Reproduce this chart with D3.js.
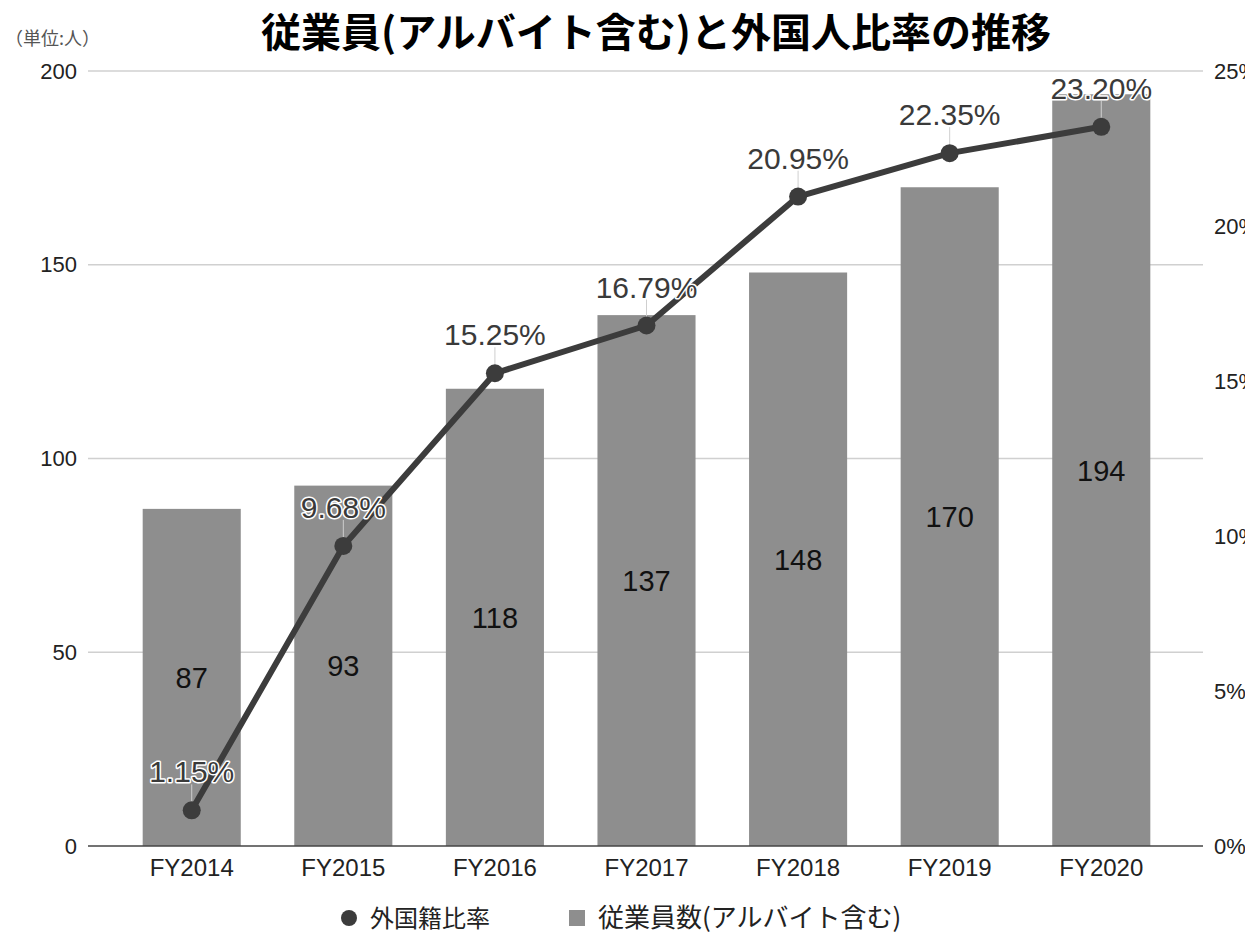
<!DOCTYPE html>
<html lang="ja">
<head>
<meta charset="utf-8">
<script src="https://cdn.jsdelivr.net/npm/d3@7"></script>
<style>
  html, body { margin: 0; padding: 0; background: #fff; }
  svg { display: block; }
  text { font-family: "Liberation Sans", Arial, "Noto Sans CJK JP", sans-serif; }
  .jp { font-family: "Noto Sans CJK JP", "Noto Sans CJK SC", sans-serif; }
</style>
</head>
<body>
<svg id="chart" width="1245" height="943"></svg>
<script>
// Fiscal years
const years = ["FY2014", "FY2015", "FY2016", "FY2017", "FY2018", "FY2019", "FY2020"];
// Employees including part-time staff (persons)
const employees = [87, 93, 118, 137, 148, 170, 194];
// Share of foreign-national staff (%)
const foreignRatio = [1.15, 9.68, 15.25, 16.79, 20.95, 22.35, 23.20];
// Axis ticks
const leftTicks = [0, 50, 100, 150, 200];
const rightTicks = [0, 5, 10, 15, 20, 25];

const titleText = "従業員(アルバイト含む)と外国人比率の推移";
const unitText = "（単位:人）";
const legendLine = "外国籍比率";
const legendBar = "従業員数(アルバイト含む)";

const svg = d3.select("#chart");

const plot = { left: 88, right: 1203, top: 71, bottom: 846 };

const x = d3.scaleBand().domain(years).range([116, 1177]).paddingInner(0.353).paddingOuter(0.176);
const yL = d3.scaleLinear().domain([0, 200]).range([plot.bottom, plot.top]);
const yR = d3.scaleLinear().domain([0, 25]).range([plot.bottom, plot.top]);

const barColor = "#8e8e8e";
const lineColor = "#3c3c3c";

// Gridlines
svg.append("g")
  .selectAll("line")
  .data(leftTicks.filter(d => d !== 0))
  .join("line")
  .attr("x1", plot.left).attr("x2", plot.right)
  .attr("y1", d => yL(d)).attr("y2", d => yL(d))
  .attr("stroke", "#d0d0d0").attr("stroke-width", 1.5);

// Left axis labels
const leftAxis = d3.axisLeft(yL).tickValues(leftTicks).tickSize(0).tickPadding(0);
svg.append("g")
  .attr("transform", `translate(77,0)`)
  .call(leftAxis)
  .call(g => g.select(".domain").remove())
  .selectAll("text")
  .attr("font-size", 22)
  .attr("fill", "#222")
  .attr("font-family", "Liberation Sans, Arial, sans-serif");

// Right axis labels (run past the right edge of the canvas)
const rightAxis = d3.axisRight(yR).tickValues(rightTicks).tickSize(0).tickPadding(0).tickFormat(d => d + "%");
svg.append("g")
  .attr("transform", `translate(1214,0)`)
  .call(rightAxis)
  .call(g => g.select(".domain").remove())
  .selectAll("text")
  .attr("font-size", 22)
  .attr("fill", "#222")
  .attr("font-family", "Liberation Sans, Arial, sans-serif");

// Bars
svg.append("g")
  .selectAll("rect")
  .data(years)
  .join("rect")
  .attr("x", d => x(d))
  .attr("width", x.bandwidth())
  .attr("y", (d, i) => yL(employees[i]))
  .attr("height", (d, i) => yL(0) - yL(employees[i]))
  .attr("fill", barColor);

// Baseline
svg.append("line")
  .attr("x1", plot.left).attr("x2", plot.right)
  .attr("y1", plot.bottom).attr("y2", plot.bottom)
  .attr("stroke", "#444").attr("stroke-width", 1.5);

// X axis labels
const xAxis = d3.axisBottom(x).tickSize(0).tickPadding(0);
svg.append("g")
  .attr("transform", `translate(0,${plot.bottom + 13})`)
  .call(xAxis)
  .call(g => g.select(".domain").remove())
  .selectAll("text")
  .attr("font-size", 24)
  .attr("fill", "#222")
  .attr("font-family", "Liberation Sans, Arial, sans-serif");

// Bar value labels, centred in each bar
svg.append("g")
  .selectAll("text")
  .data(years)
  .join("text")
  .attr("x", d => x(d) + x.bandwidth() / 2)
  .attr("y", (d, i) => (yL(employees[i]) + yL(0)) / 2)
  .attr("dy", "0.36em")
  .attr("text-anchor", "middle")
  .attr("font-size", 29)
  .attr("fill", "#111")
  .text((d, i) => employees[i]);

// Ratio line
const cx = d => x(d) + x.bandwidth() / 2;
const line = d3.line().x(d => cx(d.year)).y(d => yR(d.v));
const pts = years.map((y, i) => ({ year: y, v: foreignRatio[i] }));

// Leader ticks from labels to points
svg.append("g")
  .selectAll("line")
  .data(pts)
  .join("line")
  .attr("x1", d => cx(d.year)).attr("x2", d => cx(d.year))
  .attr("y1", d => yR(d.v) - 26).attr("y2", d => yR(d.v))
  .attr("stroke", "#cfcfcf").attr("stroke-width", 1);

svg.append("path")
  .datum(pts)
  .attr("d", line)
  .attr("fill", "none")
  .attr("stroke", lineColor)
  .attr("stroke-width", 6)
  .attr("stroke-linejoin", "round");

svg.append("g")
  .selectAll("circle")
  .data(pts)
  .join("circle")
  .attr("cx", d => cx(d.year))
  .attr("cy", d => yR(d.v))
  .attr("r", 9)
  .attr("fill", lineColor);

// Ratio labels with white halo
svg.append("g")
  .selectAll("text")
  .data(pts)
  .join("text")
  .attr("x", d => cx(d.year))
  .attr("y", d => yR(d.v) - 28)
  .attr("text-anchor", "middle")
  .attr("font-size", 30)
  .attr("fill", "#3a3a3a")
  .attr("stroke", "#fff")
  .attr("stroke-width", 3)
  .attr("stroke-linejoin", "round")
  .attr("paint-order", "stroke")
  .text(d => d.v.toFixed(2) + "%");

// Title
svg.append("text")
  .attr("class", "jp")
  .attr("x", 656).attr("y", 47)
  .attr("text-anchor", "middle")
  .attr("font-size", 40)
  .attr("font-weight", 700)
  .attr("fill", "#000")
  .text(titleText);

// Unit note
svg.append("text")
  .attr("class", "jp")
  .attr("x", 5).attr("y", 45)
  .attr("font-size", 18)
  .attr("fill", "#555")
  .text(unitText);

// Legend
const lg = svg.append("g").attr("transform", "translate(0,918)");
lg.append("circle").attr("cx", 349).attr("cy", 0).attr("r", 8).attr("fill", lineColor);
lg.append("text").attr("class", "jp").attr("x", 370).attr("y", 0).attr("dy", "0.36em")
  .attr("font-size", 24).attr("fill", "#222").text(legendLine);
lg.append("rect").attr("x", 569).attr("y", -8).attr("width", 16).attr("height", 16).attr("fill", barColor);
lg.append("text").attr("class", "jp").attr("x", 598).attr("y", 0).attr("dy", "0.36em")
  .attr("font-size", 26).attr("fill", "#222")
  .text(legendBar);
</script>
</body>
</html>
